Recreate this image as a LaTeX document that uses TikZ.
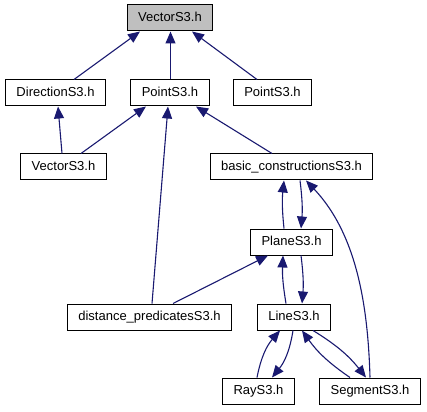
\documentclass[tikz,border=0pt]{standalone}
\usepackage{fontspec}
\setmainfont{Liberation Sans}
\usepackage{xcolor}
\usetikzlibrary{arrows.meta,calc}
\definecolor{edgeblue}{RGB}{25,25,112}
\definecolor{rootgray}{RGB}{191,191,191}

\begin{document}
\begin{tikzpicture}[
  x=1pt, y=1pt,
  box/.style={draw, fill=white, line width=1pt, inner xsep=11pt, inner ysep=0pt, minimum height=26pt,
    text height=9.5pt, text depth=2.5pt, font=\fontsize{13}{15}\selectfont},
  arr/.style={-{Triangle[length=12pt,width=10pt]}, draw=edgeblue, line width=1.1pt}
]
\useasboundingbox (0,0) rectangle (427,-411);
\node[box, fill=rootgray] (vec) at (170,-18) {VectorS3.h};
\node[box] (dir) at (55.5,-93) {DirectionS3.h};
\node[box] (pt) at (170,-93) {PointS3.h};
\node[box] (pto) at (272.5,-93) {PointS3.h};
\node[box] (vec2) at (63.5,-167) {VectorS3.h};
\node[box] (bc) at (291.5,-167) {basic\_constructionsS3.h};
\node[box] (pl) at (291.5,-242) {PlaneS3.h};
\node[box] (dp) at (149.5,-317) {distance\_predicatesS3.h};
\node[box] (ln) at (294,-317) {LineS3.h};
\node[box] (ray) at (258.5,-391) {RayS3.h};
\node[box] (seg) at (370,-391) {SegmentS3.h};
% second row up to the root
\draw[arr] ($(dir.north)+(18.5,0)$) -- ($(vec.south)+(-30,0)$);
\draw[arr] ($(pt.north)+(0.5,0)$) -- ($(vec.south)+(0.5,0)$);
\draw[arr] ($(pto.north)+(-15.5,0)$) -- ($(vec.south)+(22,0)$);
% third row
\draw[arr] ($(vec2.north)+(-1.5,0)$) -- ($(dir.south)+(2.5,0)$);
\draw[arr] ($(vec2.north)+(17.5,0)$) -- ($(pt.south)+(-24,0)$);
\draw[arr] ($(dp.north)+(2.5,0)$) -- ($(pt.south)+(-2,0)$);
\draw[arr] ($(bc.north)+(-19.5,0)$) -- ($(pt.south)+(26,0)$);
% plane and basic constructions
\draw[arr] ($(pl.north)+(-7.5,0)$) to[bend left=6] ($(bc.south)+(-7.5,0)$);
\draw[arr] ($(bc.south)+(8.5,0)$) to[bend left=6] ($(pl.north)+(9.5,0)$);
\draw[arr] (seg.north) .. controls +(-2,68) and ($(bc.south)+(66.5,-55)$) .. ($(bc.south)+(14.5,0)$);
\draw[arr] ($(dp.north)+(23.5,0)$) -- ($(pl.south)+(-23.5,0)$);
% line and its neighbours
\draw[arr] ($(ln.north)+(-8,0)$) to[bend left=6] ($(pl.south)+(-8.5,0)$);
\draw[arr] ($(pl.south)+(9.5,0)$) to[bend left=6] ($(ln.north)+(8,0)$);
\draw[arr] ($(ray.north)+(-1.5,0)$) to[bend left=15] ($(ln.south)+(-14,0)$);
\draw[arr] ($(ln.south)+(-1,0)$) to[bend left=15] ($(ray.north)+(13.5,0)$);
\draw[arr] ($(seg.north)+(-20,0)$) to[bend left=10] ($(ln.south)+(8,0)$);
\draw[arr] ($(ln.south)+(19,0)$) to[bend left=10] ($(seg.north)+(-4,0)$);
\end{tikzpicture}
\end{document}
